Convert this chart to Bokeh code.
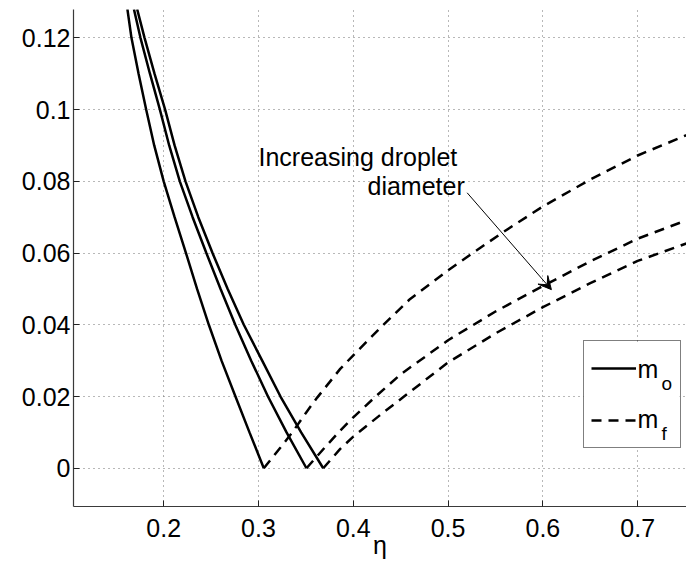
from bokeh.plotting import figure
from bokeh.models import Range1d, Legend, LegendItem, Label, Arrow, VeeHead, FixedTicker, BoxAnnotation
from bokeh.embed import file_html
from bokeh.resources import INLINE

# ---- data ----
# m_o curves (solid): eta vs value
mo1_eta = [0.1617, 0.1660, 0.1735, 0.1815, 0.1900, 0.2000, 0.2115, 0.2235, 0.2352, 0.2476, 0.2610, 0.2757, 0.2905, 0.3056]
mo1_val = [0.128, 0.12, 0.11, 0.10, 0.09, 0.08, 0.07, 0.06, 0.05, 0.04, 0.03, 0.02, 0.01, 0.0]
mo2_eta = [0.1686, 0.1755, 0.1855, 0.1960, 0.2058, 0.2170, 0.2305, 0.2450, 0.2600, 0.2755, 0.2923, 0.3100, 0.3296, 0.3506]
mo2_val = [0.128, 0.12, 0.11, 0.10, 0.09, 0.08, 0.07, 0.06, 0.05, 0.04, 0.03, 0.02, 0.01, 0.0]
mo3_eta = [0.1720, 0.1798, 0.1903, 0.2015, 0.2115, 0.2230, 0.2365, 0.2515, 0.2675, 0.2845, 0.3039, 0.3232, 0.3450, 0.3683]
mo3_val = [0.128, 0.12, 0.11, 0.10, 0.09, 0.08, 0.07, 0.06, 0.05, 0.04, 0.03, 0.02, 0.01, 0.0]

# m_f curves (dashed)
mf1_eta = [0.3056, 0.3232, 0.3357, 0.3496, 0.3619, 0.3862, 0.4000, 0.4287, 0.4600, 0.5000, 0.5260, 0.5590, 0.6000, 0.6500, 0.7000, 0.7600]
mf1_val = [0.0, 0.0058, 0.0100, 0.0153, 0.0197, 0.0277, 0.0315, 0.0392, 0.0472, 0.0552, 0.0600, 0.0660, 0.0730, 0.0805, 0.0872, 0.0938]
mf2_eta = [0.3506, 0.3700, 0.3862, 0.4000, 0.4215, 0.4500, 0.5000, 0.5500, 0.6000, 0.6500, 0.7000, 0.7600]
mf2_val = [0.0, 0.0058, 0.0105, 0.0142, 0.0195, 0.0262, 0.0357, 0.0437, 0.0508, 0.0577, 0.0640, 0.0700]
mf3_eta = [0.3683, 0.3862, 0.4000, 0.4300, 0.4535, 0.5000, 0.5500, 0.6000, 0.6500, 0.7000, 0.7600]
mf3_val = [0.0, 0.0054, 0.0088, 0.0152, 0.0200, 0.0295, 0.0376, 0.0449, 0.0516, 0.0578, 0.0635]

x_ticks = [0.2, 0.3, 0.4, 0.5, 0.6, 0.7]
x_tick_labels = ["0.2", "0.3", "0.4", "0.5", "0.6", "0.7"]
y_ticks = [0.0, 0.02, 0.04, 0.06, 0.08, 0.1, 0.12]
y_tick_labels = ["0", "0.02", "0.04", "0.06", "0.08", "0.1", "0.12"]

legend_labels = ["m", "m"]
legend_subscripts = ["o", "f"]
note_line1 = "Increasing droplet"
note_line2 = "diameter"
x_label = "η"

FONT = "Liberation Sans"

p = figure(width=686, height=562, output_backend="svg", toolbar_location=None,
           x_range=Range1d(0.10485, 0.7515), y_range=Range1d(-0.01066, 0.1279),
           min_border_left=73, min_border_right=0, min_border_top=9, min_border_bottom=56)
p.outline_line_color = None
p.background_fill_color = "white"

for ax in (p.xaxis[0], p.yaxis[0]):
    ax.axis_line_color = "#3a3a3a"
    ax.axis_line_width = 1.2
    ax.major_tick_line_color = "#222222"
    ax.major_tick_in = 6
    ax.major_tick_out = 0
    ax.minor_tick_line_color = None
    ax.major_label_text_font = FONT
    ax.major_label_text_font_size = "25px"
    ax.major_label_text_color = "black"

p.xaxis[0].ticker = FixedTicker(ticks=x_ticks)
p.xaxis[0].major_label_overrides = dict(zip(x_ticks, x_tick_labels))
p.xaxis[0].major_label_standoff = 12
p.yaxis[0].ticker = FixedTicker(ticks=y_ticks)
p.yaxis[0].major_label_overrides = dict(zip(y_ticks, y_tick_labels))
p.yaxis[0].major_label_standoff = 3

p.xaxis[0].axis_label = x_label
p.xaxis[0].axis_label_text_font = FONT
p.xaxis[0].axis_label_text_font_size = "25px"
p.xaxis[0].axis_label_text_font_style = "normal"
p.xaxis[0].axis_label_text_color = "black"
p.xaxis[0].axis_label_standoff = -9

for g in (p.xgrid[0], p.ygrid[0]):
    g.grid_line_color = "#707070"
    g.grid_line_dash = "1 4"
    g.grid_line_width = 1

# white background of the legend box (screen units, relative to the plot frame)
p.add_layout(BoxAnnotation(left=510, right=606, bottom=58, top=164,
                           left_units="screen", right_units="screen",
                           bottom_units="screen", top_units="screen",
                           fill_color="white", fill_alpha=1.0, line_color=None,
                           level="underlay"))

solid = []
for xs, ys in ((mo1_eta, mo1_val), (mo2_eta, mo2_val), (mo3_eta, mo3_val)):
    solid.append(p.line(xs, ys, line_color="black", line_width=2.5))
dashed = []
for xs, ys in ((mf1_eta, mf1_val), (mf2_eta, mf2_val), (mf3_eta, mf3_val)):
    dashed.append(p.line(xs, ys, line_color="black", line_width=2.5, line_dash="10 7"))

legend = Legend(items=[LegendItem(label=" ", renderers=[solid[0]]),
                       LegendItem(label=" ", renderers=[dashed[0]])],
                location=(510, 58), margin=0, padding=7, spacing=12,
                glyph_width=45, glyph_height=40, label_height=40, label_width=35,
                label_standoff=2, label_text_font=FONT, label_text_font_size="25px",
                border_line_color="black", border_line_width=1.2,
                background_fill_alpha=0.0)
p.add_layout(legend, "center")

# legend texts "m" with subscripts (screen units, relative to the plot frame)
for lab, sub, yb in zip(legend_labels, legend_subscripts, (138, 88)):
    p.add_layout(Label(x=564, y=yb, x_units="screen", y_units="screen", text=lab,
                       text_font=FONT, text_font_size="25px", text_baseline="alphabetic",
                       text_color="black", level="overlay"))
    p.add_layout(Label(x=588, y=yb - 15, x_units="screen", y_units="screen", text=sub,
                       text_font=FONT, text_font_size="19px", text_baseline="alphabetic",
                       text_color="black", level="overlay"))

# annotation text and arrow
p.add_layout(Label(x=0.300, y=0.0867, text=note_line1, text_font=FONT, text_font_size="25px",
                   text_baseline="alphabetic", text_color="black"))
p.add_layout(Label(x=0.415, y=0.0786, text=note_line2, text_font=FONT, text_font_size="25px",
                   text_baseline="alphabetic", text_color="black"))
p.add_layout(Arrow(end=VeeHead(size=13, fill_color="black", line_color="black", line_width=1),
                   x_start=0.5201, y_start=0.0768, x_end=0.609, y_end=0.0498,
                   line_color="black", line_width=1))

open("out.html", "w").write(file_html(p, INLINE))
